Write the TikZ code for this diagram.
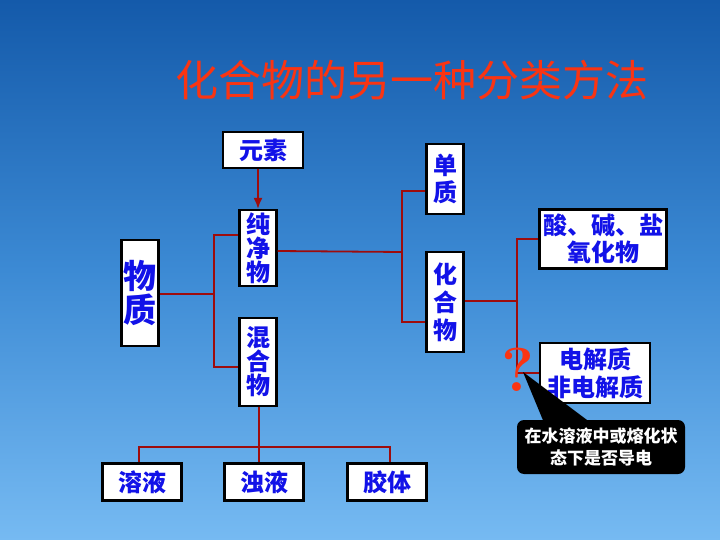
\documentclass[tikz,border=0pt]{standalone}
\usepackage{fontspec}
\usepackage{xcolor}
\usetikzlibrary{arrows.meta}
\newfontfamily\cjk{Noto Sans CJK SC}
\definecolor{cielhaut}{RGB}{20,90,170}
\definecolor{cielmilieu}{RGB}{60,138,212}
\definecolor{cielbas}{RGB}{118,186,242}
\definecolor{rougetitre}{RGB}{250,52,18}
\definecolor{bleutexte}{RGB}{18,18,232}
\definecolor{bordeaux}{RGB}{158,12,12}

\begin{document}
\begin{tikzpicture}[x=1pt,y=-1pt,
  boite/.style={draw=black,line width=2.2pt,fill=white,inner sep=0pt,align=center,text=bleutexte,font=\cjk\bfseries\fontsize{24}{24}\selectfont},
  trait/.style={bordeaux,line width=1.8pt}]
\useasboundingbox (0,0) rectangle (720,540);
\shade [top color=cielhaut,bottom color=cielbas,middle color=cielmilieu] (0,0) rectangle (720,540);
\node [text=rougetitre,font=\cjk\fontsize{43}{43}\selectfont] (titre) at (412,80) {化合物的另一种分类方法};
\node [boite,minimum width=80pt,minimum height=36pt] (yuansu) at (263,150) {元素};
\node [boite,minimum width=37pt,minimum height=106pt,font=\cjk\bfseries\fontsize{33}{34}\selectfont] (wuzhi) at (140,293) {物\\质};
\node [boite,minimum width=37pt,minimum height=76pt] (chunjing) at (258,248) {纯\\净\\物};
\node [boite,minimum width=37pt,minimum height=88pt] (hunhe) at (258,362) {混\\合\\物};
\node [boite,minimum width=37pt,minimum height=70pt,font=\cjk\bfseries\fontsize{24}{27}\selectfont] (danzhi) at (445,179) {单\\质};
\node [boite,minimum width=37pt,minimum height=100pt,font=\cjk\bfseries\fontsize{24}{28}\selectfont] (huahe) at (445,302) {化\\合\\物};
\node [boite,minimum width=127pt,minimum height=59pt,font=\cjk\bfseries\fontsize{24}{27}\selectfont] (suanjian) at (603,239) {酸、碱、盐\\氧化物};
\node [boite,minimum width=110pt,minimum height=60pt,font=\cjk\bfseries\fontsize{24}{28}\selectfont] (dianjie) at (595,373) {电解质\\非电解质};
\node [boite,minimum width=79pt,minimum height=37pt] (rongye) at (142,482) {溶液};
\node [boite,minimum width=79pt,minimum height=37pt] (zhuoye) at (264,482) {浊液};
\node [boite,minimum width=79pt,minimum height=37pt] (jiaoti) at (387,482) {胶体};
% branchements
\coordinate (b1) at (214,294);
\coordinate (b2) at (402,252);
\coordinate (b3) at (517,301);
\coordinate (b4) at (259,447);
\draw [trait,-{Latex[length=11pt,width=9pt]}] (yuansu.south -| chunjing.north) -- (chunjing.north);
\draw [trait] (wuzhi.east |- b1) -- (b1);
\draw [trait] ([yshift=13pt]chunjing.west) -| (b1) |- ([yshift=-5pt]hunhe.west);
\draw [trait] ([yshift=-3pt]chunjing.east) -- (b2);
\draw [trait] ([yshift=-12pt]danzhi.west) -| (b2) |- ([yshift=-20pt]huahe.west);
\draw [trait] (huahe.east |- b3) -- (b3);
\draw [trait] (suanjian.west) -| (b3) |- (dianjie.west);
\draw [trait] (hunhe.south -| b4) -- (b4) -- (zhuoye.north -| b4);
\draw [trait] (rongye.north -| 139,0) |- (b4) -| (jiaoti.north -| 390,0);
% bulle
\node [fill=black,rounded corners=7pt,minimum width=168pt,minimum height=54pt,inner sep=0pt,align=center,text=white,font=\cjk\bfseries\fontsize{17}{22}\selectfont] (bulle) at (601,447) {在水溶液中或熔化状\\态下是否导电};
\coordinate (pointe) at (523,372);
\fill [black] (pointe) -- ([xshift=26pt]bulle.north west) -- ([xshift=70pt]bulle.north west) -- cycle;
\node [text=rougetitre,font=\bfseries\fontsize{62}{62}\selectfont,inner sep=0pt] (question) at (518,370) {?};
\end{tikzpicture}
\end{document}
